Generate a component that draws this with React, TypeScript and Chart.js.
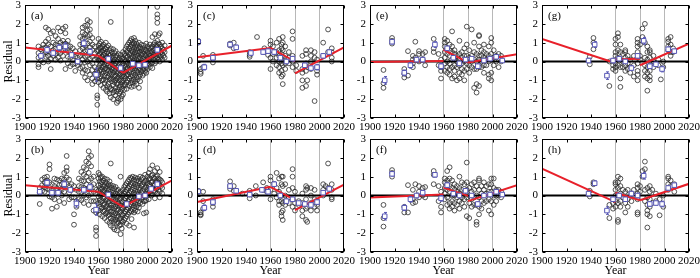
import React, { useEffect, useRef } from "react";
import { Chart, registerables } from "chart.js";

Chart.register(...registerables);

type Col = [number, number[]];
type Pt = [number, number];
type Seg = [number, number, number, number];

const FONT = "'Liberation Serif', 'Times New Roman', serif";
const xTickValues = [1900, 1920, 1940, 1960, 1980, 2000, 2020];
const yTickValues = [-3, -2, -1, 0, 1, 2, 3];
const guideYears = [1960, 1980, 2000];
const panelLabels = ["(a)", "(b)", "(c)", "(d)", "(e)", "(f)", "(g)", "(h)"];

// ---------- panel (a) ----------
const ptsA: Col[] = [
  [1911, [0.8, 0.45, 0.2, -0.15, -0.3]], [1913, [0.65, 0.3, 0.05]], [1915, [0.9, 0.7, 0.35, -0.05]],
  [1917, [1.8, 1.05, 0.75, 0.5, 0.25]], [1919, [1.7, 1.2, 0.9, 0.55, 0.3, 0.0]], [1921, [1.5, 0.8, 0.45, 0.15, -0.4]],
  [1923, [1.6, 1.0, 0.6, 0.3]], [1925, [1.35, 0.9, 0.7, 0.4, 0.1]], [1927, [1.8, 1.2, 0.85, 0.5, 0.2]],
  [1929, [1.6, 1.0, 0.75, 0.45, 0.05]], [1931, [1.75, 1.1, 0.9, 0.6, 0.3]], [1933, [1.85, 1.5, 0.95, 0.65, -0.4]],
  [1935, [1.1, 0.85, 0.55, 0.25, -0.1]], [1937, [0.8, 0.5, 0.2, -0.25]], [1939, [0.7, 0.35, 0.1, -0.15]],
  [1941, [0.55, 0.25, -0.1, -0.5]], [1943, [0.2, 0.0, -0.2]], [1945, [1.3, 0.9, 0.6, 0.3, -0.05, -0.35]],
  [1947, [1.8, 1.55, 1.2, 0.95, 0.7, 0.4, 0.1, -0.3, -0.6]], [1949, [1.9, 1.45, 1.25, 0.85, 0.55, 0.25, -0.05, -0.45, -0.85]],
  [1951, [2.2, 1.95, 1.65, 1.35, 0.95, 0.6, 0.3, 0.0, -0.5, -1.0]], [1953, [2.1, 1.7, 1.4, 1.05, 0.75, 0.45, 0.15, -0.2, -0.7]],
  [1955, [1.25, 0.9, 0.6, 0.25, -0.1, -0.45, -0.9, -1.2]], [1957, [0.8, 0.45, 0.1, -0.3, -0.65, -1.05]],
  [1959, [0.55, 0.2, -0.5, -0.9, -1.8, -1.95, -2.3]],
  [1960, [1.2, 0.85, 0.6, 0.3, 0.05, -0.35, -0.7, -1.1]], [1961, [0.95, 0.7, 0.4, 0.15, -0.2, -0.5, -0.9]],
  [1962, [1.05, 0.75, 0.5, 0.2, -0.1, -0.45, -0.8, -1.25]], [1963, [0.8, 0.55, 0.25, -0.05, -0.3, -0.65, -1.0]],
  [1964, [0.9, 0.6, 0.35, 0.1, -0.25, -0.55, -0.95, -1.4]], [1965, [0.7, 0.45, 0.15, -0.15, -0.4, -0.75, -1.15]],
  [1966, [1.0, 0.65, 0.3, 0.0, -0.35, -0.6, -1.0, -1.5]], [1967, [0.75, 0.5, 0.2, -0.1, -0.45, -0.85, -1.3, -1.6]],
  [1968, [0.85, 0.4, 0.1, -0.2, -0.5, -0.8, -1.2]], [1969, [0.6, 0.3, 0.0, -0.3, -0.65, -0.95, -1.35, -1.7]],
  [1970, [2.1, 0.7, 0.35, 0.05, -0.25, -0.55, -0.9, -1.45, -1.9]], [1971, [0.5, 0.2, -0.15, -0.4, -0.7, -1.05, -1.5]],
  [1972, [0.65, 0.3, 0.0, -0.35, -0.6, -0.95, -1.25, -1.65, -2.0]], [1973, [0.45, 0.1, -0.2, -0.5, -0.8, -1.1, -1.55]],
  [1974, [0.55, 0.25, -0.1, -0.45, -0.75, -1.0, -1.4, -1.8]], [1975, [0.3, 0.0, -0.3, -0.6, -0.9, -1.2, -1.6, -2.2]],
  [1976, [0.4, 0.1, -0.25, -0.55, -0.85, -1.15, -1.5, -1.95, -2.1]], [1977, [0.2, -0.1, -0.4, -0.7, -1.0, -1.35, -1.7]],
  [1978, [0.35, 0.05, -0.3, -0.65, -0.95, -1.25, -1.6, -2.0]], [1979, [0.15, -0.2, -0.5, -0.8, -1.1, -1.45, -1.85]],
  [1980, [0.5, 0.2, -0.1, -0.4, -0.7, -1.0, -1.3, -1.75]], [1981, [0.4, 0.1, -0.2, -0.5, -0.8, -1.2, -1.5]],
  [1982, [0.65, 0.3, 0.0, -0.3, -0.6, -0.9, -1.25]], [1983, [0.8, 0.5, 0.2, -0.15, -0.45, -0.75, -1.1, -1.45]],
  [1984, [0.9, 0.55, 0.25, -0.05, -0.35, -0.7, -1.0]], [1985, [1.0, 0.7, 0.4, 0.1, -0.2, -0.55, -0.9, -1.3]],
  [1986, [1.1, 0.8, 0.45, 0.15, -0.15, -0.45, -0.8, -1.15]], [1987, [1.2, 0.9, 0.6, 0.3, 0.0, -0.3, -0.65, -1.0, -1.35]],
  [1988, [1.05, 0.75, 0.5, 0.2, -0.1, -0.4, -0.75, -1.1]], [1989, [1.25, 0.95, 0.65, 0.35, 0.05, -0.25, -0.6, -0.95, -1.3]],
  [1990, [1.1, 0.8, 0.5, 0.25, -0.05, -0.35, -0.7, -1.05]], [1991, [0.95, 0.7, 0.4, 0.1, -0.2, -0.5, -0.85, -1.2]],
  [1992, [0.85, 0.55, 0.3, 0.0, -0.3, -0.6, -0.95]], [1993, [1.0, 0.7, 0.45, 0.15, -0.15, -0.45, -0.8, -1.4]],
  [1994, [0.75, 0.5, 0.2, -0.1, -0.4, -0.7, -1.05]], [1995, [0.9, 0.6, 0.35, 0.05, -0.25, -0.55]],
  [1996, [0.7, 0.4, 0.15, -0.15, -0.45, -0.75]], [1997, [0.85, 0.55, 0.25, -0.05, -0.35, -0.65]],
  [1998, [0.65, 0.35, 0.1, -0.2, -0.5]], [1999, [0.95, 0.6, 0.3, 0.0, -0.3, -0.6]],
  [2000, [0.8, 0.5, 0.2, -0.1, -0.4]], [2001, [0.7, 0.4, 0.15, -0.15]], [2002, [0.9, 0.55, 0.3, 0.0, -0.3]],
  [2003, [0.75, 0.45, 0.2, -0.1]], [2004, [1.3, 0.8, 0.5, 0.25, -0.05, -0.35]], [2005, [0.9, 0.6, 0.35, 0.1]],
  [2006, [1.45, 1.0, 0.7, 0.45, 0.2, -0.1]], [2007, [0.85, 0.55, 0.3, 0.0]],
  [2008, [2.9, 2.5, 2.3, 2.05, 1.1, 0.8, 0.5, 0.2]], [2009, [1.4, 0.95, 0.65, 0.35, 0.1]],
  [2010, [1.5, 0.9, 0.6, 0.3, 0.0]], [2011, [0.8, 0.5, 0.25]], [2012, [1.0, 0.7, 0.4, 0.1]],
  [2013, [0.6, 0.3]], [2014, [0.85, 0.5, 0.2]],
];
const meanA: Pt[] = [[1913, 0.3], [1918, 0.62], [1923, 0.45], [1928, 0.74], [1933, 0.8], [1938, 0.35], [1943, 0.0], [1948, 0.97], [1953, 0.52], [1958, -0.7], [1968, 0.14], [1978, -0.35], [1988, -0.12], [1993, -0.2], [1998, -0.17], [2008, 0.62]];
const errA = [0.12, 0.15, 0.12, 0.15, 0.2, 0.12, 0.08, 0.18, 0.15, 0.35, 0.08, 0.1, 0.06, 0.06, 0.08, 0.12];
const trendA: Seg[] = [[1900, 0.75, 1960, 0.3], [1960, 0.3, 1980, -0.6], [1980, -0.6, 2020, 0.85]];

// ---------- panel (b) ----------
const ptsB: Col[] = [
  [1912, [0.4, 0.15, -0.45]], [1914, [0.85, 0.55, 0.25]], [1916, [0.95, 0.7, 0.45, 0.2]], [1918, [1.0, 0.8, 0.6, 0.35]],
  [1920, [1.65, 1.4, 0.7, 0.3, -0.05]], [1922, [0.6, 0.25, -0.1, -0.7]], [1924, [0.9, 0.5, 0.15, -0.2]],
  [1926, [0.85, 0.4, 0.1, -0.6]], [1928, [0.8, 0.55, 0.2, -0.3]], [1930, [0.9, 0.6, 0.3, 0.0]],
  [1932, [1.2, 0.85, 0.5, 0.2, -0.4]], [1934, [2.1, 1.5, 1.3, 0.95, 0.6]], [1936, [0.85, 0.5, 0.15, -0.2]],
  [1938, [0.6, 0.3, -0.1]], [1940, [0.5, -0.1, -1.0, -1.55]], [1942, [0.3, -0.3, -0.6]], [1944, [0.9, 0.5, 0.2, -0.2]],
  [1946, [1.25, 0.8, 0.45, 0.15, -0.25]], [1948, [1.5, 1.1, 0.75, 0.4, 0.0, -0.4]], [1950, [1.8, 1.4, 1.0, 0.6, 0.3, -0.1]],
  [1952, [2.35, 2.0, 1.7, 1.2, 0.8, 0.4, 0.0, -0.5]], [1954, [2.1, 1.55, 0.9, 0.5, 0.1, -0.3]],
  [1956, [1.0, 0.6, 0.2, -0.3, -0.8]], [1958, [0.3, -0.3, -0.9, -1.7, -1.85, -2.15]],
  [1960, [1.2, 0.9, 0.55, 0.25, -0.05, -0.4, -0.8]], [1961, [1.1, 0.75, 0.4, 0.1, -0.25, -0.6, -1.0]],
  [1962, [0.95, 0.6, 0.3, 0.0, -0.35, -0.7]], [1963, [1.0, 0.7, 0.35, 0.05, -0.3, -0.65, -1.1]],
  [1964, [0.8, 0.5, 0.2, -0.15, -0.5, -0.85]], [1965, [0.9, 0.55, 0.25, -0.1, -0.45, -0.8, -1.2]],
  [1966, [0.7, 0.4, 0.1, -0.25, -0.6, -0.95]], [1967, [0.85, 0.5, 0.15, -0.2, -0.55, -0.9, -1.35]],
  [1968, [0.6, 0.3, 0.0, -0.35, -0.7, -1.05]], [1969, [0.75, 0.45, 0.1, -0.3, -0.65, -1.0, -1.45]],
  [1970, [1.7, 0.55, 0.2, -0.15, -0.5, -0.85, -1.2, -1.6]], [1971, [0.4, 0.05, -0.3, -0.65, -1.0, -1.35]],
  [1972, [0.5, 0.15, -0.2, -0.55, -0.9, -1.25, -1.7]], [1973, [0.35, 0.0, -0.35, -0.7, -1.05, -1.4, -1.8]],
  [1974, [0.45, 0.1, -0.25, -0.6, -0.95, -1.3]], [1975, [0.25, -0.1, -0.45, -0.8, -1.15, -1.5, -1.85]],
  [1976, [0.3, -0.05, -0.4, -0.75, -1.1, -1.45]], [1977, [0.15, -0.2, -0.55, -0.9, -1.25, -1.6]],
  [1978, [1.0, 0.2, -0.15, -0.5, -0.85, -1.2, -1.55, -2.05]], [1979, [0.05, -0.3, -0.65, -1.0, -1.35, -1.75]],
  [1980, [0.3, 0.0, -0.35, -0.7, -1.05, -1.4]], [1981, [0.45, 0.1, -0.25, -0.6, -0.95, -1.3]],
  [1982, [0.55, 0.2, -0.15, -0.5, -0.85, -1.2]], [1983, [0.65, 0.3, -0.05, -0.4, -0.75, -1.1, -1.5]],
  [1984, [0.75, 0.4, 0.05, -0.3, -0.65, -1.0]], [1985, [0.85, 0.5, 0.15, -0.2, -0.55, -0.9, -1.6]],
  [1986, [0.95, 0.6, 0.25, -0.1, -0.45, -0.8]], [1987, [0.9, 0.55, 0.2, -0.15, -0.5, -0.85, -1.25]],
  [1988, [1.0, 0.65, 0.3, -0.05, -0.4, -0.75]], [1989, [0.85, 0.5, 0.15, -0.2, -0.55, -0.9, -1.7]],
  [1990, [0.95, 0.6, 0.25, -0.1, -0.45, -0.8]], [1991, [0.8, 0.45, 0.1, -0.25, -0.6]],
  [1992, [0.9, 0.55, 0.2, -0.15, -0.5, -0.85]], [1993, [0.75, 0.4, 0.05, -0.3, -0.65]],
  [1994, [1.0, 0.65, 0.3, -0.05, -0.4]], [1995, [0.85, 0.5, 0.15, -0.2]], [1996, [0.95, 0.6, 0.25, -0.1, -0.45]],
  [1997, [0.7, 0.35, 0.0, -0.3, -0.95]], [1998, [1.1, 0.75, 0.4, 0.05, -0.3]], [1999, [0.8, 0.45, 0.1, -0.25, -0.9]],
  [2000, [1.0, 0.65, 0.3, 0.0]], [2001, [1.2, 0.85, 0.5, 0.15, -0.2]], [2002, [1.4, 0.9, 0.55, 0.2]],
  [2003, [1.05, 0.7, 0.35, 0.0]], [2004, [1.6, 1.1, 0.75, 0.4, 0.05]], [2005, [0.95, 0.6, 0.25]],
  [2006, [1.3, 0.9, 0.55, 0.2, -0.15]], [2007, [1.0, 0.7, 0.35]], [2008, [1.45, 1.05, 0.75, 0.45, 0.1]],
  [2009, [0.9, 0.6, 0.3]], [2010, [1.25, 0.85, 0.55, 0.2, -0.1]], [2011, [0.8, 0.5]], [2012, [0.7, 0.4, 0.1]],
];
const meanB: Pt[] = [[1912, 0.2], [1918, 0.68], [1922, 0.15], [1927, 0.15], [1932, 0.6], [1937, 0.3], [1942, -0.42], [1948, 0.3], [1953, 0.45], [1958, -0.75], [1968, 0.05], [1983, -0.45], [1993, -0.05], [1998, 0.0], [2003, 0.35], [2008, 0.6]];
const errB = [0.12, 0.15, 0.12, 0.12, 0.18, 0.12, 0.2, 0.12, 0.15, 0.3, 0.08, 0.08, 0.06, 0.06, 0.08, 0.1];
const trendB: Seg[] = [[1900, 0.55, 1960, 0.2], [1960, 0.2, 1980, -0.6], [1980, -0.6, 2020, 0.8]];

// ---------- panel (c) ----------
const ptsC: Col[] = [
  [1901, [1.1, 1.0]], [1903, [-0.4, -0.55, -0.65]], [1905, [0.3, -0.3]], [1913, [0.35, 0.15, -0.05]],
  [1927, [0.95, 0.85]], [1930, [1.0, 0.7]], [1943, [0.5, 0.35, 0.25]], [1949, [1.3]], [1955, [0.7, 0.5]],
  [1958, [0.55, 0.35]], [1960, [1.1, 0.9, 0.6, 0.2, -0.4]], [1962, [0.8, 0.4, 0.0]], [1965, [1.0, 0.5, 0.2, -0.2]],
  [1967, [1.2, 0.6, 0.3, 0.0, -0.3, -0.6]], [1969, [0.9, 0.7, 0.4, 0.1, -0.1, -0.5, -0.8]],
  [1970, [1.3, 1.0, 0.6, 0.2, -0.2, -0.7, -1.2]], [1972, [0.8, 0.3, -0.1, -0.4]], [1975, [0.5, 0.2, -0.1]],
  [1978, [1.6, 1.2, 0.3, 0.0, -0.3]], [1981, [-0.2, -0.5]], [1986, [0.3, -0.4, -0.6, -1.0, -1.4]],
  [1989, [0.6, 0.4, -0.1, -0.5, -1.3]], [1990, [-1.0, -0.3]], [1993, [0.6, 0.3, 0.0, -0.4]],
  [1996, [-2.1, 0.5, 0.2]], [1998, [0.1, -0.3, -0.5, -0.7]], [2003, [1.0, 0.3]], [2007, [1.7, 0.5]],
  [2010, [0.7, 0.5, 0.2, 0.0]],
];
const meanC: Pt[] = [[1901, 1.05], [1906, -0.3], [1913, 0.2], [1927, 0.9], [1932, 0.75], [1944, 0.45], [1954, 0.5], [1958, 0.55], [1963, 0.5], [1968, 0.2], [1973, 0.0], [1978, 0.15], [1988, -0.2], [1993, -0.35], [1998, -0.3], [2003, 0.3], [2008, 0.5]];
const errC = [0.12, 0.15, 0.12, 0.12, 0.12, 0.12, 0.1, 0.1, 0.12, 0.1, 0.1, 0.12, 0.12, 0.1, 0.15, 0.1, 0.1];
const trendC: Seg[] = [[1900, 0.22, 1960, 0.72], [1960, 0.72, 1980, 0.0], [1980, -0.63, 2020, 0.75]];

// ---------- panel (d) ----------
const ptsD: Col[] = [
  [1901, [0.25, 0.2]], [1903, [-0.9, -1.0, -1.05]], [1905, [0.2, -0.3, -0.7]], [1913, [-0.2, -0.4, -0.6]],
  [1927, [0.75, 0.5, 0.35]], [1930, [0.5, 0.25]], [1937, [0.1]], [1943, [0.25, 0.05, -0.15]], [1948, [0.5, 0.0]],
  [1954, [0.7, 0.3]], [1957, [0.4, 0.2]], [1960, [1.0, 0.8, 0.3, -0.2]], [1963, [0.6, 0.1]],
  [1965, [1.2, 0.4, -0.1]], [1967, [0.9, 0.2, -0.3, -0.5]], [1969, [1.0, 0.6, 0.0, -0.3, -0.9, -1.1]],
  [1970, [1.0, 0.5, -0.4, -0.8, -1.3]], [1972, [0.6, 0.0, -0.3, -0.5]], [1975, [0.3, -0.1, -0.4]],
  [1978, [1.4, 1.0, 0.4, -0.2, -0.6]], [1980, [0.2, -0.4, -0.8]], [1983, [-0.3, -0.5]],
  [1986, [0.1, -0.4, -0.8, -1.1]], [1989, [0.5, 0.3, -0.2, -0.7, -1.3]], [1990, [-1.4, -0.6, 0.4]],
  [1993, [0.4, 0.0, -0.4, -0.8]], [1996, [0.3, -0.2, -0.6]], [1998, [-0.3, -0.5, -0.8]],
  [2003, [0.6, 0.3, 0.0]], [2005, [0.5]], [2007, [1.7, 0.4]], [2010, [0.6, 0.3, -0.1, -0.2]],
];
const meanD: Pt[] = [[1901, 0.22], [1906, -0.65], [1913, -0.35], [1927, 0.5], [1932, 0.25], [1943, 0.05], [1953, 0.3], [1958, 0.2], [1963, 0.6], [1968, 0.0], [1973, -0.3], [1978, -0.2], [1983, -0.4], [1988, -0.45], [1993, -0.5], [1998, -0.35], [2003, 0.15], [2008, 0.35]];
const errD = [0.1, 0.15, 0.12, 0.12, 0.1, 0.1, 0.1, 0.1, 0.12, 0.1, 0.1, 0.1, 0.1, 0.1, 0.1, 0.12, 0.1, 0.1];
const trendD: Seg[] = [[1900, -0.34, 1960, 0.46], [1960, 0.46, 1980, -0.25], [1980, -0.78, 2020, 0.58]];

// ---------- panel (e) ----------
const ptsE: Col[] = [
  [1911, [-0.45, -1.15, -1.4]], [1918, [1.25, 1.1, 0.95]], [1928, [-0.85, -0.4, -0.65]], [1931, [0.55, -0.75]],
  [1935, [0.3, 0.1, -0.1, -0.3]], [1937, [1.05, 0.2]], [1940, [0.55, 0.4, 0.0]], [1943, [0.4, 0.1]],
  [1945, [0.5, -0.2]], [1952, [1.2, 0.7, 0.5]], [1956, [0.4, -0.2]], [1958, [0.1, -0.3, -0.5, -0.9]],
  [1961, [1.2, 1.0, 0.8, 0.5, 0.2, -0.1, -0.5]], [1963, [1.1, 0.7, 0.4, 0.0, -0.3, -0.6]],
  [1965, [0.9, 0.6, 0.3, -0.1, -0.4, -0.7]], [1967, [1.6, 0.8, 0.5, 0.1, -0.3, -0.9]],
  [1969, [0.6, 0.4, 0.1, -0.2, -0.5, -0.8]], [1971, [0.3, 0.0, -0.3, -1.0]],
  [1973, [1.1, 0.4, 0.1, -0.2, -0.6, -0.9]], [1975, [0.5, 0.2, -0.1, -0.4, -0.7]],
  [1977, [0.7, 0.3, 0.0, -0.5, -1.0]], [1979, [1.85, 0.9, 0.3, -0.1, -0.4]], [1981, [0.6, 0.2, -0.2, -0.6]],
  [1983, [1.7, 0.3, 0.0, -0.3]], [1985, [1.0, 0.5, 0.1, -0.4, -1.4]], [1987, [0.4, 0.0, -0.4, -1.2, -1.65]],
  [1989, [1.4, 1.35, 0.8, 0.3, 0.1, -0.3, -1.3]], [1991, [0.6, 0.3, 0.0, -0.3]],
  [1993, [0.9, 0.5, 0.2, -0.2, -0.6]], [1995, [0.4, 0.1, -0.2]], [1997, [0.8, 0.3, 0.0, -0.7, -0.9]],
  [1999, [1.25, 1.0, 0.4, 0.1, -0.6, -1.0]], [2001, [0.6, 0.2, -0.2]], [2003, [0.3, 0.0]],
  [2005, [0.4, 0.1, -0.3]], [2007, [0.3, 0.0]],
];
const meanE: Pt[] = [[1912, -1.0], [1918, 1.05], [1928, -0.6], [1933, -0.2], [1938, 0.1], [1943, 0.1], [1953, 0.9], [1958, -0.25], [1963, 0.7], [1968, 0.2], [1973, -0.1], [1978, 0.1], [1983, 0.15], [1988, -0.25], [1993, 0.05], [1998, 0.15], [2003, 0.25], [2008, 0.05]];
const errE = [0.2, 0.12, 0.15, 0.15, 0.12, 0.12, 0.15, 0.15, 0.12, 0.1, 0.1, 0.1, 0.1, 0.12, 0.1, 0.1, 0.1, 0.1];
const trendE: Seg[] = [[1900, -0.02, 1960, 0.02], [1960, 0.62, 1980, -0.05], [1980, -0.05, 2020, 0.38]];

// ---------- panel (f) ----------
const ptsF: Col[] = [
  [1911, [-0.5, -1.2, -1.65]], [1918, [1.35, 1.2, 1.0]], [1928, [-0.6, -0.9]], [1931, [0.55, -0.9]],
  [1935, [0.3, -0.2, -0.4]], [1937, [0.6, -0.35]], [1940, [0.5, 0.2, -0.1]], [1943, [0.4, 0.0]],
  [1945, [0.45, -0.1]], [1952, [1.3, 1.1, 0.6]], [1956, [0.5, -0.3]], [1958, [0.2, -0.6, -0.9]],
  [1961, [0.9, 0.7, 0.4, 0.1, -0.2]], [1963, [1.3, 0.8, 0.6, 0.3, -0.1, -0.5]],
  [1965, [1.5, 0.9, 0.5, 0.2, -0.4, -0.7]], [1967, [0.8, 0.4, 0.0, -0.3, -0.6]],
  [1969, [0.6, 0.3, 0.0, -0.4, -0.8]], [1971, [0.5, 0.2, -0.1, -0.5]], [1973, [1.0, 0.4, 0.1, -0.3, -0.7]],
  [1975, [0.7, 0.3, -0.1, -0.4]], [1977, [0.6, 0.2, -0.2, -0.6]], [1979, [1.75, 0.7, 0.3, -0.1, -1.1]],
  [1981, [0.4, 0.0, -0.4, -1.2]], [1983, [0.6, 0.2, -0.2, -0.6]], [1985, [0.7, 0.3, -0.1, -0.5]],
  [1987, [0.5, 0.0, -0.5, -1.4, -1.55]], [1989, [0.9, 0.8, 0.3, -0.1, -0.6, -1.0]],
  [1991, [0.5, 0.1, -0.3, -0.7]], [1993, [0.7, 0.3, 0.0, -0.4]], [1995, [0.5, 0.1, -0.3]],
  [1997, [0.6, 0.2, -0.2, -0.8]], [1999, [0.9, 0.6, 0.2, -0.3, -1.0]], [2001, [0.9, 0.4, 0.0, -0.5]],
  [2003, [0.3, 0.0, -0.3]], [2005, [0.3, 0.0]], [2007, [0.2, -0.1]],
];
const meanF: Pt[] = [[1912, -1.1], [1918, 1.15], [1928, -0.65], [1933, -0.2], [1938, 0.0], [1943, 0.15], [1953, 1.1], [1958, -0.15], [1963, 0.55], [1968, 0.1], [1973, 0.0], [1978, 0.25], [1983, 0.0], [1988, -0.45], [1993, 0.0], [1998, 0.05], [2003, 0.2], [2008, 0.05]];
const errF = [0.2, 0.12, 0.15, 0.15, 0.12, 0.12, 0.12, 0.15, 0.12, 0.1, 0.1, 0.1, 0.1, 0.12, 0.1, 0.1, 0.1, 0.1];
const trendF: Seg[] = [[1900, -0.1, 1960, 0.05], [1960, 0.42, 1980, -0.02], [1980, -0.3, 2020, 0.55]];

// ---------- panel (g) ----------
const ptsG: Col[] = [
  [1939, [0.25, -0.15]], [1942, [1.25, 1.0, 0.65]], [1955, [0.0, -1.3]], [1958, [-0.2, -0.4]],
  [1960, [1.2, 0.9, 0.5, 0.3, -0.1, -0.3, -0.5]], [1962, [1.5, 1.3, 0.6, 0.2, -0.2]],
  [1964, [0.9, 0.5, 0.1, -0.3, -0.9, -1.35]], [1966, [0.4, 0.0, -0.3]], [1968, [0.6, 0.5, 0.2, -0.2, -0.5]],
  [1970, [0.3, -0.1, -0.4]], [1972, [0.1, -0.3, -0.6]], [1975, [0.3, -0.2, -0.8]],
  [1978, [1.2, 1.0, 0.8, 0.5, 0.2, -0.1, -0.5, -0.7, -1.0]], [1980, [0.9, 0.3, 0.1]], [1982, [1.75, 1.3]],
  [1984, [2.0, 1.0, 0.2, -0.2, -0.5, -0.8]], [1986, [0.8, 0.5, 0.1, -0.3, -0.6, -0.9, -1.55]],
  [1988, [0.6, 0.5, 0.2, -0.2, -0.5, -0.8, -1.0]], [1991, [0.3, 0.0, -0.3]], [1995, [0.1, -0.2]],
  [1997, [-0.95]], [1999, [0.0, -0.3]], [2003, [1.2, 1.05, 0.8, 0.6]], [2005, [1.3, 0.9, 0.5, 0.3]],
  [2007, [0.7, 0.5]],
];
const meanG: Pt[] = [[1938, 0.05], [1943, 0.9], [1953, -0.75], [1958, 0.05], [1963, 0.15], [1968, 0.0], [1973, -0.35], [1978, 0.3], [1983, 1.1], [1988, -0.25], [1993, -0.15], [1998, -0.4], [2003, 0.65], [2008, 0.55]];
const errG = [0.12, 0.15, 0.2, 0.12, 0.12, 0.1, 0.12, 0.12, 0.18, 0.12, 0.1, 0.15, 0.12, 0.1];
const trendG: Seg[] = [[1900, 1.2, 1956, 0.0], [1956, 0.1, 1980, 0.15], [1980, -0.2, 2020, 0.95]];

// ---------- panel (h) ----------
const ptsH: Col[] = [
  [1939, [0.25, -0.05]], [1942, [0.7, 0.6]], [1955, [-0.5, -1.2]], [1958, [-0.4, -0.7]],
  [1960, [0.7, 0.6, 0.3, 0.0, -0.3, -0.6]], [1962, [1.0, 0.7, 0.4, 0.0, -0.4, -1.3, -1.4]],
  [1964, [0.9, 0.5, 0.1, -0.3, -0.6]], [1966, [0.3, -0.1]], [1968, [0.2, -0.4, -0.9]],
  [1970, [0.3, -0.2, -0.6]], [1973, [0.1, -0.3]], [1975, [0.3, 0.0]], [1978, [0.6, 0.4, 0.1, -0.2, -0.9, -1.0]],
  [1980, [0.5, 0.2]], [1982, [1.3, 1.0]], [1984, [1.8, 1.4, 0.3, -0.3]], [1986, [0.4, -0.1, -0.5, -0.8, -1.0, -1.7]],
  [1988, [0.5, 0.2, -0.2, -0.6, -1.1]], [1990, [0.3, -0.4]], [1993, [0.1, -0.3]], [1996, [-0.2, -1.05]],
  [1999, [0.0, -0.6]], [2003, [1.0, 0.9, 0.6, 0.3]], [2005, [0.8, 0.5]], [2008, [0.6, 0.2]],
];
const meanH: Pt[] = [[1938, 0.1], [1943, 0.65], [1953, -0.8], [1958, -0.2], [1963, 0.0], [1968, -0.2], [1973, 0.1], [1978, 0.0], [1983, 1.05], [1988, -0.45], [1993, -0.4], [1998, -0.45], [2003, 0.4], [2008, 0.55]];
const errH = [0.12, 0.12, 0.2, 0.12, 0.12, 0.1, 0.12, 0.12, 0.18, 0.12, 0.1, 0.15, 0.12, 0.1];
const trendH: Seg[] = [[1900, 1.42, 1960, -0.35], [1960, 0.15, 1980, -0.25], [1980, -0.25, 2020, 0.62]];

// ---------- layout ----------
const colLeft = [25, 197, 370, 542];
const rowTop = [5, 139];
const PLOT_W = 147;
const PLOT_H = 113;
const PAD_T = 15;
const PAD_R = 15;

const RED = "#e8202a";
const BLUE = "#5757b5";
const GUIDE = "#b8b8b8";

type PanelDef = { pts: Col[]; means: Pt[]; errs: number[]; trend: Seg[]; col: number; row: number; label: string };

const panels: PanelDef[] = [
  { pts: ptsA, means: meanA, errs: errA, trend: trendA, col: 0, row: 0, label: panelLabels[0] },
  { pts: ptsB, means: meanB, errs: errB, trend: trendB, col: 0, row: 1, label: panelLabels[1] },
  { pts: ptsC, means: meanC, errs: errC, trend: trendC, col: 1, row: 0, label: panelLabels[2] },
  { pts: ptsD, means: meanD, errs: errD, trend: trendD, col: 1, row: 1, label: panelLabels[3] },
  { pts: ptsE, means: meanE, errs: errE, trend: trendE, col: 2, row: 0, label: panelLabels[4] },
  { pts: ptsF, means: meanF, errs: errF, trend: trendF, col: 2, row: 1, label: panelLabels[5] },
  { pts: ptsG, means: meanG, errs: errG, trend: trendG, col: 3, row: 0, label: panelLabels[6] },
  { pts: ptsH, means: meanH, errs: errH, trend: trendH, col: 3, row: 1, label: panelLabels[7] },
];

function Panel({ def }: { def: PanelDef }) {
  const ref = useRef<HTMLCanvasElement | null>(null);
  const xAxisH = def.row === 0 ? 22 : 26;
  const padL = def.col === 0 ? 25 : 30;
  const width = padL + PLOT_W + PAD_R;
  const height = PAD_T + PLOT_H + xAxisH;

  useEffect(() => {
    const canvas = ref.current;
    if (!canvas) return;
    const flat = def.pts.flatMap(([x, ys]) => ys.map((y) => ({ x, y })));

    const decor = {
      id: "decor" + def.label,
      beforeDatasetDraw(chart: any, args: any) {
        const ds = chart.data.datasets[args.index];
        if (ds.label !== "means") return;
        const c = chart.ctx;
        const xs = chart.scales.x;
        const ys = chart.scales.y;
        c.save();
        c.strokeStyle = BLUE;
        c.lineWidth = 1;
        def.means.forEach(([mx, my], i) => {
          const e = def.errs[i];
          const px = Math.round(xs.getPixelForValue(mx)) + 0.5;
          const y1 = ys.getPixelForValue(my + e);
          const y2 = ys.getPixelForValue(my - e);
          c.beginPath();
          c.moveTo(px, y1);
          c.lineTo(px, y2);
          c.moveTo(px - 1.5, y1);
          c.lineTo(px + 1.5, y1);
          c.moveTo(px - 1.5, y2);
          c.lineTo(px + 1.5, y2);
          c.stroke();
        });
        c.restore();
      },
      afterDraw(chart: any) {
        const c = chart.ctx;
        const a = chart.chartArea;
        const xs = chart.scales.x;
        const ys = chart.scales.y;
        c.save();
        c.strokeStyle = "#000";
        c.lineWidth = 1;
        const L = Math.round(a.left) + 0.5;
        const R = Math.round(a.right) - 0.5;
        const T = Math.round(a.top) + 0.5;
        const B = Math.round(a.bottom) - 0.5;
        c.strokeRect(L, T, R - L, B - T);
        c.beginPath();
        xTickValues.forEach((v) => {
          const px = Math.round(xs.getPixelForValue(v)) + 0.5;
          c.moveTo(px, B);
          c.lineTo(px, B - 3);
          c.moveTo(px, T);
          c.lineTo(px, T + 3);
        });
        yTickValues.forEach((v) => {
          const py = Math.round(ys.getPixelForValue(v)) + 0.5;
          c.moveTo(L, py);
          c.lineTo(L + 3, py);
          c.moveTo(R, py);
          c.lineTo(R - 3, py);
        });
        c.stroke();
        c.fillStyle = "#000";
        c.font = "11px " + FONT;
        c.textBaseline = "middle";
        c.fillText(def.label, a.left + 6, a.top + 11);
        c.restore();
      },
    };

    const datasets: any[] = [
      {
        type: "line",
        label: "means",
        data: def.means.map(([x, y]) => ({ x, y })),
        showLine: false,
        pointStyle: "rect",
        pointRadius: 3.2,
        pointBorderColor: BLUE,
        pointBackgroundColor: "#ffffff",
        pointBorderWidth: 1,
        order: 1,
      },
      ...def.trend.map((s) => ({
        type: "line",
        label: "trend",
        data: [{ x: s[0], y: s[1] }, { x: s[2], y: s[3] }],
        borderColor: RED,
        borderWidth: 2,
        pointRadius: 0,
        order: 2,
      })),
      {
        type: "line",
        label: "zero",
        data: [{ x: 1900, y: 0 }, { x: 2020, y: 0 }],
        borderColor: "#000",
        borderWidth: 2,
        pointRadius: 0,
        order: 3,
      },
      {
        type: "scatter",
        label: "obs",
        data: flat,
        pointStyle: "circle",
        pointRadius: 2.4,
        pointBorderColor: "#2a2a2a",
        pointBackgroundColor: "rgba(0,0,0,0)",
        pointBorderWidth: 0.8,
        order: 4,
      },
    ];

    const chart = new Chart(canvas, {
      type: "scatter",
      data: { datasets },
      plugins: [decor],
      options: {
        animation: false,
        responsive: false,
        events: [],
        layout: { padding: { left: 0, top: PAD_T, right: PAD_R, bottom: 0 } },
        plugins: { legend: { display: false }, tooltip: { enabled: false } },
        scales: {
          x: {
            type: "linear",
            min: 1900,
            max: 2020,
            afterFit: (s: any) => { s.height = xAxisH; },
            afterBuildTicks: (s: any) => { s.ticks = xTickValues.map((v) => ({ value: v })); },
            border: { display: false },
            grid: {
              drawTicks: false,
              lineWidth: 1,
              color: (ctx: any) => (ctx.tick && guideYears.includes(ctx.tick.value) ? GUIDE : "rgba(0,0,0,0)"),
            },
            ticks: {
              autoSkip: false,
              maxRotation: 0,
              minRotation: 0,
              padding: 3,
              color: "#000",
              font: { family: FONT, size: 11 },
              callback: (v: any) => String(v),
            },
            title: {
              display: def.row === 1,
              text: "Year",
              color: "#000",
              font: { family: FONT, size: 12 },
              padding: 0,
            },
          },
          y: {
            type: "linear",
            min: -3,
            max: 3,
            afterFit: (s: any) => { s.width = padL; },
            afterBuildTicks: (s: any) => { s.ticks = yTickValues.map((v) => ({ value: v })); },
            border: { display: false },
            grid: { display: false, drawTicks: false },
            ticks: {
              padding: 4,
              color: "#000",
              font: { family: FONT, size: 11 },
              callback: (v: any) => String(v),
            },
            title: {
              display: def.col === 0,
              text: "Residual",
              color: "#000",
              font: { family: FONT, size: 12 },
              padding: { top: 2, bottom: 0 },
            },
          },
        },
      } as any,
    });
    return () => chart.destroy();
  }, []);

  return (
    <canvas
      ref={ref}
      width={width}
      height={height}
      style={{
        position: "absolute",
        left: colLeft[def.col] - padL,
        top: rowTop[def.row] - PAD_T,
        width,
        height,
      }}
    />
  );
}

export default function App() {
  return (
    <div style={{ position: "absolute", left: 0, top: 0, width: 700, height: 278, background: "#fff", overflow: "hidden" }}>
      {panels.map((p) => (
        <Panel key={p.label} def={p} />
      ))}
    </div>
  );
}
